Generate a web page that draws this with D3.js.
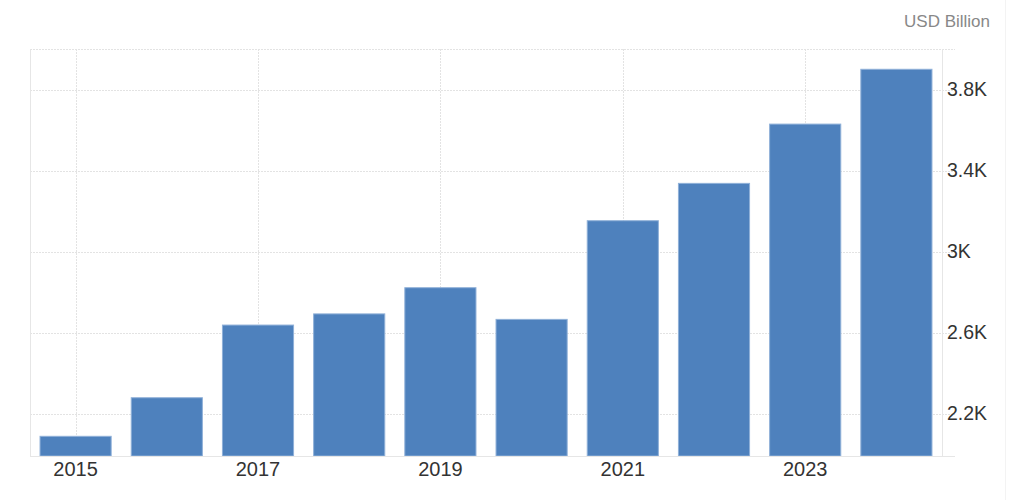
<!DOCTYPE html>
<html>
<head>
<meta charset="utf-8">
<script src="https://cdn.jsdelivr.net/npm/d3@7"></script>
<style>
  body { margin: 0; background: #fff; }
  svg { display: block; font-family: Arial, "Liberation Sans", sans-serif; }
</style>
</head>
<body>
<div id="chart"></div>
<script>
const years = ["2015", "2016", "2017", "2018", "2019", "2020", "2021", "2022", "2023", "2024"];
const gdp = [2097, 2287, 2645, 2700, 2829, 2673, 3159, 3343, 3635, 3905];
const yTicks = [2200, 2600, 3000, 3400, 3800];
const xTickYears = ["2015", "2017", "2019", "2021", "2023"];

const fullwidth = 1010;
const fullheight = 500;
const plotLeft = 30, plotRight = 942, plotTop = 50, plotBottom = 456;

const xScale = d3.scaleBand()
  .domain(years)
  .range([plotLeft, plotRight])
  .paddingInner(0.22)
  .paddingOuter(0.11);

const yScale = d3.scaleLinear()
  .domain([2000, 4000])
  .range([plotBottom, plotTop]);

const svg = d3.select("#chart").append("svg")
  .attr("width", fullwidth)
  .attr("height", fullheight);

// horizontal grid
svg.append("g")
  .selectAll("line")
  .data(yTicks.concat([4000]))
  .enter().append("line")
  .attr("x1", plotLeft).attr("x2", 955)
  .attr("y1", d => Math.round(yScale(d)) - 0.5)
  .attr("y2", d => Math.round(yScale(d)) - 0.5)
  .attr("stroke", "#e3e3e3")
  .attr("stroke-dasharray", "2,1");

// vertical grid
svg.append("g")
  .selectAll("line")
  .data(xTickYears)
  .enter().append("line")
  .attr("x1", d => Math.round(xScale(d) + xScale.bandwidth() / 2) + 0.5)
  .attr("x2", d => Math.round(xScale(d) + xScale.bandwidth() / 2) + 0.5)
  .attr("y1", plotTop - 1).attr("y2", plotBottom)
  .attr("stroke", "#e3e3e3")
  .attr("stroke-dasharray", "2,1");

// frame lines
svg.append("line").attr("x1", plotLeft + 0.5).attr("x2", plotLeft + 0.5)
  .attr("y1", plotTop - 1).attr("y2", plotBottom).attr("stroke", "#e6e6e6");
svg.append("line").attr("x1", plotRight + 0.5).attr("x2", plotRight + 0.5)
  .attr("y1", plotTop - 1).attr("y2", plotBottom).attr("stroke", "#e6e6e6");
svg.append("line").attr("x1", 1005.5).attr("x2", 1005.5)
  .attr("y1", 0).attr("y2", fullheight).attr("stroke", "#f3f3f3");

// bars
svg.append("g")
  .selectAll("rect")
  .data(gdp)
  .enter().append("rect")
  .attr("x", (d, i) => xScale(years[i]))
  .attr("y", d => yScale(d))
  .attr("width", xScale.bandwidth())
  .attr("height", d => plotBottom - yScale(d))
  .attr("fill", "#4e81bd")
  .attr("stroke", "#8fb0d8")
  .attr("stroke-width", 1);

// bottom axis line
svg.append("line").attr("x1", plotLeft).attr("x2", 955)
  .attr("y1", plotBottom + 0.5).attr("y2", plotBottom + 0.5)
  .attr("stroke", "#e6e6e6");

// x labels
svg.append("g")
  .selectAll("text")
  .data(xTickYears)
  .enter().append("text")
  .attr("x", d => xScale(d) + xScale.bandwidth() / 2)
  .attr("y", 476)
  .attr("text-anchor", "middle")
  .attr("font-size", 20)
  .attr("fill", "#333")
  .text(d => d);

// y labels
const fmt = v => (v / 1000) + "K";
svg.append("g")
  .selectAll("text")
  .data(yTicks)
  .enter().append("text")
  .attr("x", 947)
  .attr("y", d => yScale(d) + 5)
  .attr("font-size", 19.5)
  .attr("fill", "#333")
  .text(d => fmt(d));

svg.append("text")
  .attr("x", 990)
  .attr("y", 27)
  .attr("text-anchor", "end")
  .attr("font-size", 17)
  .attr("fill", "#888")
  .text("USD Billion");
</script>
</body>
</html>
